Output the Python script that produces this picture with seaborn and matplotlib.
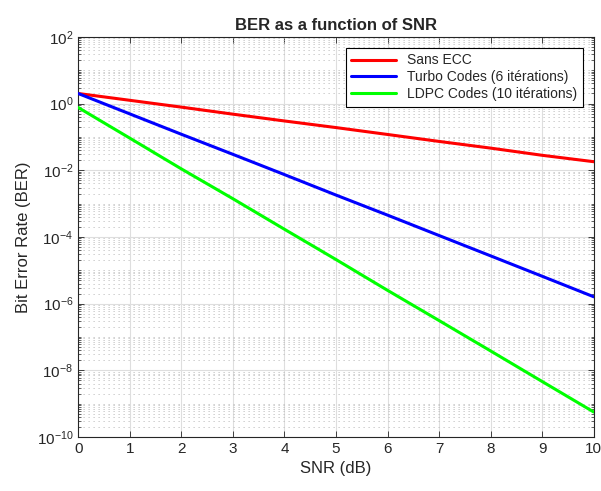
import numpy as np
import pandas as pd
import matplotlib
matplotlib.use("Agg")
import matplotlib.pyplot as plt
from matplotlib.ticker import LogLocator, LogFormatterSciNotation, MultipleLocator, NullFormatter
import seaborn as sns

# valeurs (SNR entier de 0 a 10 dB)
snr_db = [0, 1, 2, 3, 4, 5, 6, 7, 8, 9, 10]
ber_sans_ecc = [2.0, 1.25, 0.78, 0.48, 0.30, 0.19, 0.118, 0.073, 0.046, 0.028, 0.018]
ber_turbo = [2.0, 0.49, 0.12, 0.03, 7.4e-3, 1.8e-3, 4.5e-4, 1.1e-4, 2.7e-5, 6.6e-6, 1.6e-6]
ber_ldpc = [0.76, 0.092, 0.011, 1.4e-3, 1.7e-4, 2.1e-5, 2.5e-6, 3.1e-7, 3.8e-8, 4.6e-9, 5.6e-10]
noms = ["Sans ECC", "Turbo Codes (6 itérations)", "LDPC Codes (10 itérations)"]
couleurs = ["#ff0000", "#0000ff", "#00ff00"]

df = pd.concat([
    pd.DataFrame({"SNR": snr_db, "BER": b, "code": n})
    for b, n in zip([ber_sans_ecc, ber_turbo, ber_ldpc], noms)
])

sns.set_theme(style="ticks")
plt.rcParams["font.family"] = ["Liberation Sans", "DejaVu Sans"]

fig = plt.figure(figsize=(6.01, 4.91), dpi=100)
ax = fig.add_axes([0.130, 0.110, 0.858, 0.815])

sns.lineplot(data=df, x="SNR", y="BER", hue="code", palette=couleurs,
             linewidth=2.2, ax=ax, zorder=3)

ax.set_yscale("log")
ax.set_xlim(0, 10)
ax.set_ylim(1e-10, 1e2)
ax.xaxis.set_major_locator(MultipleLocator(1))
ax.yaxis.set_major_locator(LogLocator(base=100))
ax.yaxis.set_major_formatter(LogFormatterSciNotation(base=10))
ax.yaxis.set_minor_locator(LogLocator(base=10, subs=np.arange(1, 10), numticks=30))
ax.yaxis.set_minor_formatter(NullFormatter())

# grille style MATLAB : pointilles horizontaux seulement pour les mineurs
ax.grid(which="major", color="#dedede", linestyle="-", linewidth=0.8, zorder=0)
ax.yaxis.grid(which="minor", color="#bcbcbc", linestyle=(0, (1.5, 4.5)), linewidth=0.6, zorder=0)
ax.tick_params(which="both", direction="in", top=True, right=True, colors="#262626",
               labelsize=11)
ax.tick_params(which="major", length=4, width=0.6)
ax.tick_params(which="minor", length=2.5, width=0.5)
for s in ax.spines.values():
    s.set_color("#262626")
    s.set_linewidth(0.8)

ax.set_xlabel("SNR (dB)", fontsize=12, color="#262626")
ax.set_ylabel("Bit Error Rate (BER)", fontsize=12, color="#262626")
ax.set_title("BER as a function of SNR", fontsize=12, fontweight="bold", pad=5)

leg = ax.legend(loc="upper right", fontsize=10, frameon=True, fancybox=False,
                edgecolor="black", framealpha=1, handlelength=3.2,
                borderaxespad=0.8, labelspacing=0.2)
leg.get_frame().set_linewidth(0.8)

fig.savefig("out.png", dpi=100)
